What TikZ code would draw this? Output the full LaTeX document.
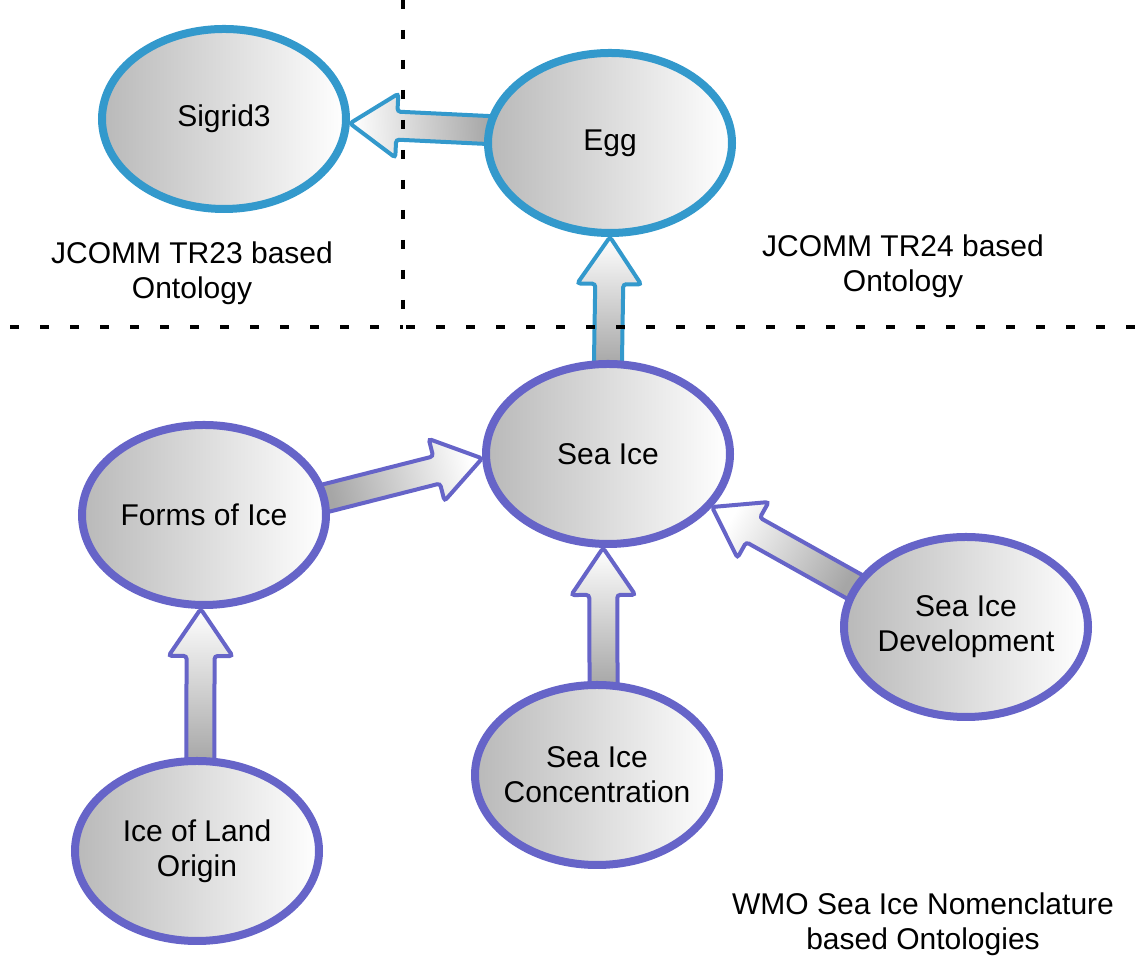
\documentclass[tikz,border=0pt]{standalone}
\usepackage{fontspec}
\setmainfont{Liberation Sans}
\usetikzlibrary{shapes.geometric,calc}

\definecolor{tealblue}{HTML}{3399CC}
\definecolor{lavender}{HTML}{6664C8}
\newcommand{\ontofont}{\fontsize{30}{35}\selectfont}

\pgfdeclarelayer{background}
\pgfsetlayers{background,main}

\tikzset{
    onto/.style={ellipse, draw, line width=8pt, minimum width=244pt, minimum height=180pt,
        inner sep=0pt, inner xsep=-12pt, left color=gray!55, right color=white,
        align=center, font=\ontofont},
    jcomm/.style={onto, draw=tealblue},
    wmo/.style={onto, draw=lavender},
    note/.style={align=center, font=\ontofont},
    fatarrow/.style={line width=4pt, rounded corners=3pt, top color=white, bottom color=gray!70},
    divider/.style={line width=4pt, dash pattern=on 9pt off 21pt}
}

% tail, tip, outline colour, shading angle
\newcommand{\fatarrow}[4]{%
    \coordinate (tl) at ($(#1)!-6pt!(#2)$);
    \coordinate (nk) at ($(#2)!47pt!(#1)$);
    \draw[fatarrow, draw=#3, shading angle=#4]
        ($(tl)!14pt!90:(#2)$) -- ($(nk)!14pt!90:(#2)$) -- ($(nk)!32pt!90:(#2)$) -- (#2)
        -- ($(nk)!32pt!-90:(#2)$) -- ($(nk)!14pt!-90:(#2)$) -- ($(tl)!14pt!-90:(#2)$) -- cycle;
}

\begin{document}
\begin{tikzpicture}[x=1pt, y=1pt]
    \useasboundingbox (0,0) rectangle (1138,957);

    % regions
    \draw[divider] (403,957) -- (403,630) -- (1138,630);
    \draw[divider] (10,630) -- (403,630);

    \node[note] (tr23) at (192,684) {JCOMM TR23 based\\Ontology};
    \node[note] (tr24) at (903,691) {JCOMM TR24 based\\Ontology};
    \node[note] (nomen) at (923,33) {WMO Sea Ice Nomenclature\\based Ontologies};

    % ontologies
    \node[jcomm] (sigrid) at (224,838) {Sigrid3};
    \node[jcomm] (egg) at (610,814) {Egg};
    \node[wmo] (seaice) at (608,503) {Sea Ice};
    \node[wmo] (forms) at (204,442) {Forms of Ice};
    \node[wmo] (devel) at (966,330) {Sea Ice\\Development};
    \node[wmo] (conc) at (597,182) {Sea Ice\\Concentration};
    \node[wmo] (land) at (197,106) {Ice of Land\\Origin};

    \begin{pgfonlayer}{background}
        \fatarrow{egg.174}{sigrid.-2}{tealblue}{93}
        \fatarrow{seaice.north}{egg.south}{tealblue}{0}
        \fatarrow{forms.8}{seaice.182}{lavender}{-75}
        \fatarrow{devel.160}{seaice.-27}{lavender}{60}
        \fatarrow{conc.86}{seaice.-93}{lavender}{0}
        \fatarrow{land.88}{forms.-92}{lavender}{0}
    \end{pgfonlayer}
\end{tikzpicture}
\end{document}
